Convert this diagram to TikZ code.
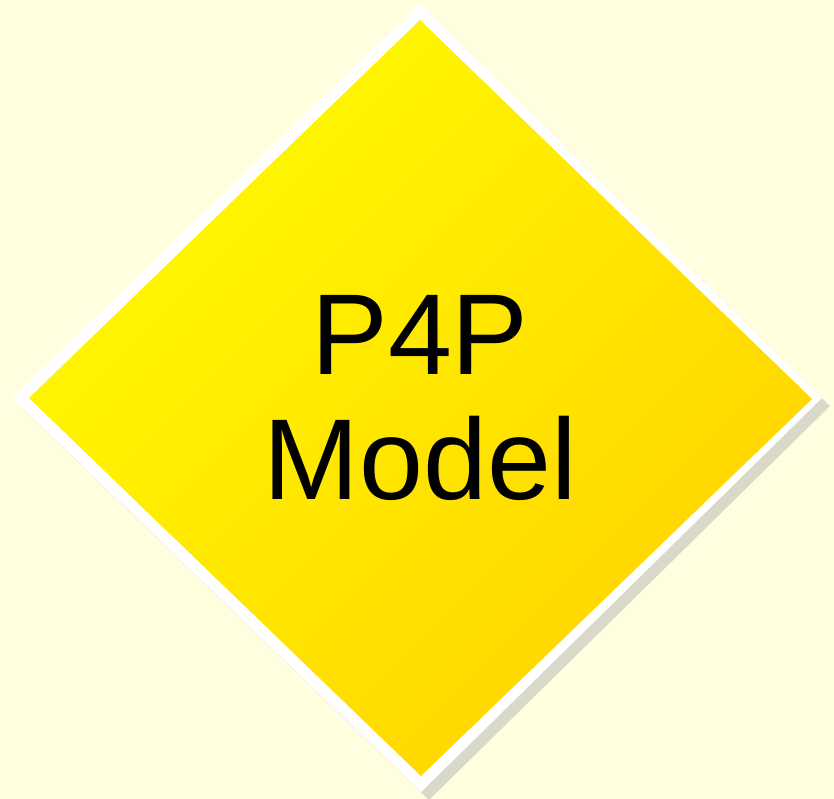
\documentclass[tikz,border=0pt]{standalone}
\usepackage{fontspec}
\setmainfont{Liberation Sans}
\usetikzlibrary{positioning}
\definecolor{pagebg}{HTML}{FFFFE0}
\definecolor{shadowgrey}{HTML}{D9D9C9}
\definecolor{faceA}{HTML}{FFFA00}
\definecolor{faceB}{HTML}{FFD300}

\begin{document}
\begin{tikzpicture}[x=1pt,y=-1pt]
\fill[pagebg] (0,0) rectangle (834,799);
\useasboundingbox (0,0) rectangle (834,799);
% corners of the rim and the face
\coordinate (rimN) at (420,4);
\coordinate (rimE) at (822,398);
\coordinate (rimS) at (421,792);
\coordinate (rimW) at (12,398);
\coordinate (faceN) at (420,20);
\coordinate (faceE) at (812,399);
\coordinate (faceS) at (421,776);
\coordinate (faceW) at (29,398);
% shadow, rim, face
\fill[shadowgrey] ([shift={(8,8)}]rimN) -- ([shift={(8,8)}]rimE) -- ([shift={(8,8)}]rimS) -- ([shift={(8,8)}]rimW) -- cycle;
\fill[white] (rimN) -- (rimE) -- (rimS) -- (rimW) -- cycle;
\shade[top color=faceA,bottom color=faceB,shading angle=45] (faceN) -- (faceE) -- (faceS) -- (faceW) -- cycle;
\node[align=center,font=\fontsize{115}{125}\selectfont] (label) at (420,398) {P4P\\Model};
\end{tikzpicture}
\end{document}
